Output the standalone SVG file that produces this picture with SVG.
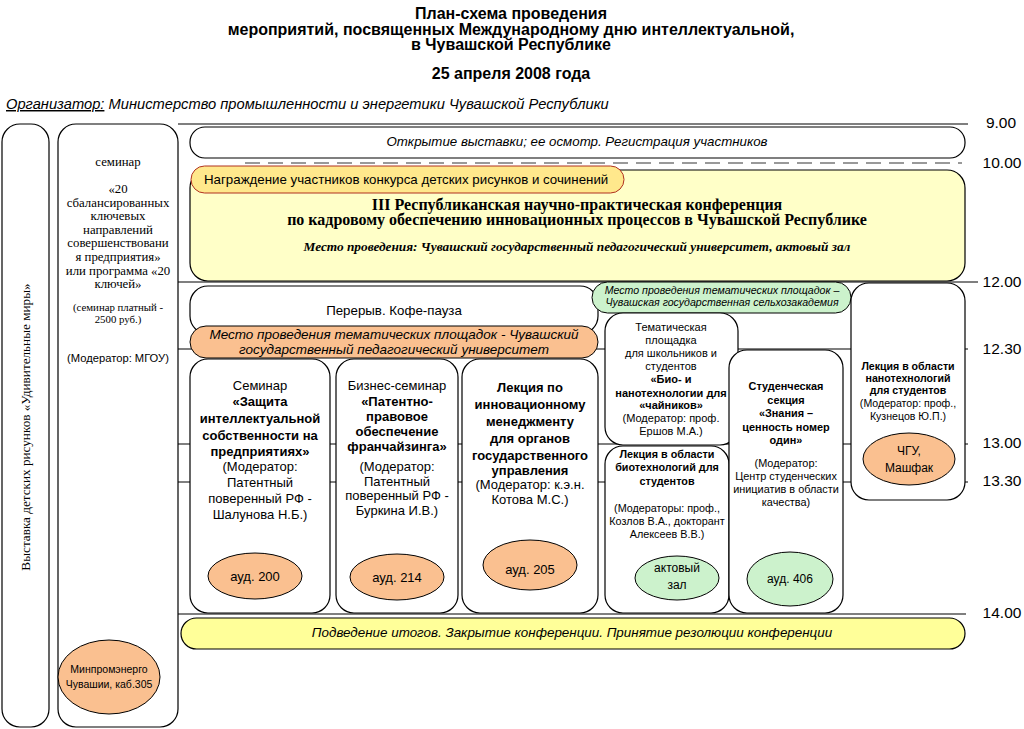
<svg xmlns="http://www.w3.org/2000/svg" width="1024" height="729" viewBox="0 0 1024 729">
<style>
.s{font-family:"Liberation Sans",Arial,sans-serif;}
.r{font-family:"Liberation Serif","Times New Roman",serif;}
.box{fill:#fff;stroke:#000;stroke-width:1.2;}
.or{fill:#FAC090;stroke:#000;stroke-width:1;}
.gr{fill:#CCF2CC;stroke:#000;stroke-width:1;}
.t{font-size:15.5px;fill:#000;text-anchor:middle;}
.c{text-anchor:middle;fill:#000;}
.tl{stroke:#000;stroke-width:1.2;}
</style>
<rect width="1024" height="729" fill="#fff"/>
<g id="title" class="s" font-weight="bold" font-size="16" text-anchor="middle">
<text x="511" y="19">План-схема проведения</text>
<text x="511" y="35">мероприятий, посвященных Международному дню интеллектуальной,</text>
<text x="511" y="50">в Чувашской Республике</text>
<text x="511" y="79">25 апреля 2008 года</text>
</g>
<g id="organizer" class="s" font-style="italic" font-size="14.7">
<text x="6" y="109"><tspan text-decoration="underline">Организатор:</tspan> Министерство промышленности и энергетики Чувашской Республики</text>
</g>
<g id="connectors">
<line class="tl" x1="178" y1="124" x2="968" y2="124"/>
<line x1="245" y1="163" x2="962" y2="163" stroke="#999" stroke-width="2" stroke-dasharray="15,8"/>
<line class="tl" x1="178" y1="282" x2="978" y2="282"/>
<line class="tl" x1="178" y1="349" x2="968" y2="349"/>
<line class="tl" x1="178" y1="444" x2="968" y2="444"/>
<line class="tl" x1="178" y1="482" x2="968" y2="482"/>
<line class="tl" x1="178" y1="614" x2="966" y2="614"/>
</g>
<g id="times" class="s t">
<text x="1001" y="128">9.00</text>
<text x="1002" y="168">10.00</text>
<text x="1002" y="287">12.00</text>
<text x="1002" y="354">12.30</text>
<text x="1002" y="448">13.00</text>
<text x="1002" y="486">13.30</text>
<text x="1002" y="618">14.00</text>
</g>
<g id="exhibition">
<rect class="box" x="2" y="124" width="47" height="603" rx="18"/>
<text class="r c" font-size="13.2" transform="translate(30 427) rotate(-90)">Выставка детских рисунков «Удивительные миры»</text>
</g>
<g id="seminar20">
<rect class="box" x="58" y="124" width="120" height="603" rx="18"/>
<g class="r c" font-size="12.8">
<text x="118" y="166">семинар</text>
<text x="118" y="193">«20</text>
<text x="118" y="206.6">сбалансированных</text>
<text x="118" y="220.2">ключевых</text>
<text x="118" y="233.8">направлений</text>
<text x="118" y="247.4">совершенствовани</text>
<text x="118" y="261">я предприятия»</text>
<text x="118" y="274.6">или программа «20</text>
<text x="118" y="288.2">ключей»</text>
<text x="118" y="311" font-size="10.8">(семинар платный -</text>
<text x="118" y="323" font-size="10.8">2500 руб.)</text>
</g>
<text class="s c" x="118" y="362" font-size="11.2">(Модератор: МГОУ)</text>
<ellipse class="or" cx="109" cy="677" rx="51" ry="37"/>
<text class="s c" x="109" y="673" font-size="10.5">Минпромэнерго</text>
<text class="s c" x="109" y="688" font-size="10.5">Чувашии, каб.305</text>
</g>
<g id="opening">
<rect class="box" x="190" y="127" width="775" height="31" rx="15"/>
<text class="s c" x="577" y="146" font-size="13.3" font-style="italic">Открытие выставки; ее осмотр. Регистрация участников</text>
</g>
<g id="conference">
<rect x="190" y="170" width="775" height="111" rx="18" fill="#FFFFC8" stroke="#000" stroke-width="1.2"/>
<g class="r c" font-weight="bold" font-size="16">
<text x="577" y="210">III Республиканская научно-практическая конференция</text>
<text x="577" y="225">по кадровому обеспечению инновационных процессов в Чувашской Республике</text>
</g>
<text class="r c" x="577" y="251" font-weight="bold" font-style="italic" font-size="13.3">Место проведения: Чувашский государственный педагогический университет, актовый зал</text>
</g>
<g id="award">
<rect x="191" y="166" width="433" height="27" rx="13.5" fill="#FFE88C" stroke="#B03020" stroke-width="1"/>
<text class="s" x="204" y="184" font-size="13.3">Награждение участников конкурса детских рисунков и сочинений</text>
</g>
<g id="break">
<rect class="box" x="190" y="286" width="408" height="48" rx="18"/>
<text class="s c" x="394" y="315" font-size="13.3">Перерыв. Кофе-пауза</text>
</g>
<g id="place-pedu">
<rect class="or" x="190" y="326" width="408" height="32" rx="16"/>
<text class="s c" x="394" y="339" font-size="13.5" font-style="italic">Место проведения тематических площадок - Чувашский</text>
<text class="s c" x="394" y="354" font-size="13.5" font-style="italic">государственный педагогический университет</text>
</g>
<g id="seminar-ip">
<rect class="box" x="190" y="359" width="140" height="254" rx="18"/>
<g class="s c" font-size="13">
<text x="260" y="390">Семинар</text>
<text x="260" y="406" font-weight="bold">«Защита</text>
<text x="260" y="423" font-weight="bold">интеллектуальной</text>
<text x="260" y="440" font-weight="bold">собственности на</text>
<text x="260" y="456" font-weight="bold">предприятиях»</text>
<text x="260" y="471">(Модератор:</text>
<text x="260" y="487">Патентный</text>
<text x="260" y="503">поверенный РФ -</text>
<text x="260" y="519">Шалунова Н.Б.)</text>
</g>
<ellipse class="or" cx="255" cy="576" rx="47" ry="23"/>
<text class="s c" x="255" y="581" font-size="13">ауд. 200</text>
</g>
<g id="seminar-patent">
<rect class="box" x="336" y="359" width="122" height="254" rx="18"/>
<g class="s c" font-size="13">
<text x="397" y="390">Бизнес-семинар</text>
<text x="397" y="406" font-weight="bold">«Патентно-</text>
<text x="397" y="421" font-weight="bold">правовое</text>
<text x="397" y="436" font-weight="bold">обеспечение</text>
<text x="397" y="451" font-weight="bold">франчайзинга»</text>
<text x="397" y="471">(Модератор:</text>
<text x="397" y="486">Патентный</text>
<text x="397" y="500">поверенный РФ -</text>
<text x="397" y="515">Буркина И.В.)</text>
</g>
<ellipse class="or" cx="397" cy="577" rx="47" ry="23"/>
<text class="s c" x="397" y="582" font-size="13">ауд. 214</text>
</g>
<g id="lecture-mgmt">
<rect class="box" x="462" y="359" width="136" height="254" rx="18"/>
<g class="s c" font-size="13">
<text x="530" y="392" font-weight="bold">Лекция по</text>
<text x="530" y="409" font-weight="bold">инновационному</text>
<text x="530" y="426" font-weight="bold">менеджменту</text>
<text x="530" y="443" font-weight="bold">для органов</text>
<text x="530" y="460" font-weight="bold">государственного</text>
<text x="530" y="475" font-weight="bold">управления</text>
<text x="530" y="489">(Модератор: к.э.н.</text>
<text x="530" y="504">Котова М.С.)</text>
</g>
<ellipse class="or" cx="530" cy="565" rx="47" ry="25"/>
<text class="s c" x="530" y="574" font-size="13">ауд. 205</text>
</g>
<g id="place-agro">
<rect class="gr" x="592" y="282" width="259" height="31" rx="15.5"/>
<text class="s c" x="722" y="294" font-size="10.6" font-style="italic">Место проведения тематических площадок –</text>
<text class="s c" x="722" y="306" font-size="10.6" font-style="italic">Чувашская государственная сельхозакадемия</text>
</g>
<g id="bio-nano">
<rect class="box" x="605" y="313" width="133" height="132" rx="18"/>
<g class="s c" font-size="11">
<text x="671" y="331">Тематическая</text>
<text x="671" y="344">площадка</text>
<text x="671" y="357">для школьников и</text>
<text x="671" y="370">студентов</text>
<text x="671" y="383" font-weight="bold">«Био- и</text>
<text x="671" y="397" font-weight="bold">нанотехнологии для</text>
<text x="671" y="409" font-weight="bold">«чайников»</text>
<text x="671" y="422">(Модератор: проф.</text>
<text x="671" y="435">Ершов М.А.)</text>
</g>
</g>
<g id="lecture-bio">
<rect class="box" x="605" y="446" width="124" height="167" rx="18"/>
<g class="s c" font-size="10.8">
<text x="667" y="458" font-weight="bold">Лекция в области</text>
<text x="667" y="471" font-weight="bold">биотехнологий для</text>
<text x="667" y="485" font-weight="bold">студентов</text>
<text x="667" y="512">(Модераторы: проф.,</text>
<text x="667" y="525">Козлов В.А., докторант</text>
<text x="667" y="538">Алексеев В.В.)</text>
</g>
<ellipse class="gr" cx="677" cy="578" rx="42" ry="22"/>
<text class="s c" x="677" y="572" font-size="12">актовый</text>
<text class="s c" x="677" y="589" font-size="12">зал</text>
</g>
<g id="student-section">
<rect class="box" x="729" y="350" width="114" height="263" rx="18"/>
<g class="s c" font-size="10.9">
<text x="786" y="390" font-weight="bold">Студенческая</text>
<text x="786" y="404" font-weight="bold">секция</text>
<text x="786" y="417" font-weight="bold">«Знания –</text>
<text x="786" y="431" font-weight="bold">ценность номер</text>
<text x="786" y="444" font-weight="bold">один»</text>
<text x="786" y="467">(Модератор:</text>
<text x="786" y="480">Центр студенческих</text>
<text x="786" y="493">инициатив в области</text>
<text x="786" y="506">качества)</text>
</g>
<ellipse class="gr" cx="790" cy="579" rx="43" ry="27"/>
<text class="s c" x="790" y="583" font-size="12">ауд. 406</text>
</g>
<g id="lecture-nano">
<rect class="box" x="851" y="283" width="114" height="217" rx="18"/>
<g class="s c" font-size="10.6">
<text x="908" y="370" font-weight="bold">Лекция в области</text>
<text x="908" y="382" font-weight="bold">нанотехнологий</text>
<text x="908" y="394" font-weight="bold">для студентов</text>
<text x="908" y="407">(Модератор: проф.,</text>
<text x="908" y="420">Кузнецов Ю.П.)</text>
</g>
<ellipse class="or" cx="909" cy="459" rx="46" ry="26"/>
<text class="s c" x="909" y="455" font-size="12">ЧГУ,</text>
<text class="s c" x="909" y="472" font-size="12">Машфак</text>
</g>
<g id="closing">
<rect x="181" y="618" width="784" height="31" rx="15.5" fill="#FFFF99" stroke="#000" stroke-width="1.2"/>
<text class="s c" x="572" y="637" font-size="13.4" font-style="italic">Подведение итогов. Закрытие конференции. Принятие резолюции конференции</text>
</g>
</svg>
